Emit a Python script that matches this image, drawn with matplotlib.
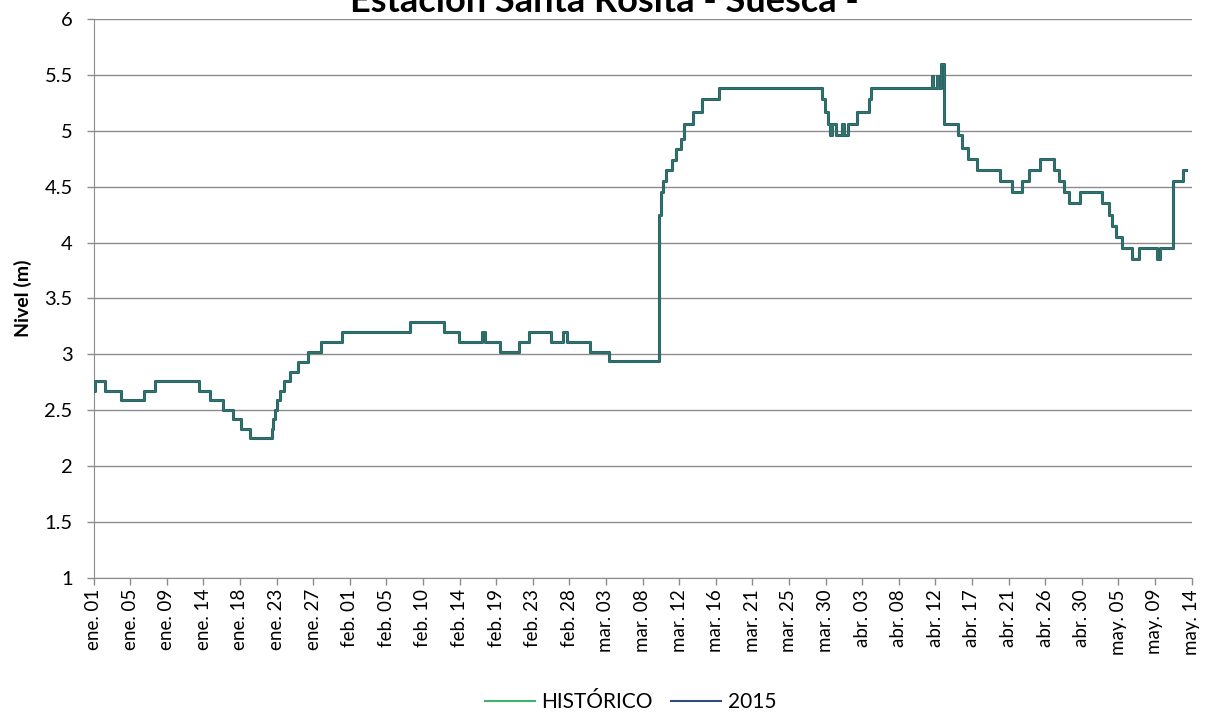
import numpy as np
import matplotlib
matplotlib.use('Agg')
import matplotlib.pyplot as plt
from matplotlib.lines import Line2D

plt.rcParams['font.family'] = ['Lato', 'DejaVu Sans']

# etiquetas del eje de categorias (una cada ~4-5 dias)
fechas = ['ene. 01', 'ene. 05', 'ene. 09', 'ene. 14', 'ene. 18', 'ene. 23', 'ene. 27',
          'feb. 01', 'feb. 05', 'feb. 10', 'feb. 14', 'feb. 19', 'feb. 23', 'feb. 28',
          'mar. 03', 'mar. 08', 'mar. 12', 'mar. 16', 'mar. 21', 'mar. 25', 'mar. 30',
          'abr. 03', 'abr. 08', 'abr. 12', 'abr. 17', 'abr. 21', 'abr. 26', 'abr. 30',
          'may. 05', 'may. 09', 'may. 14']

# posicion (en intervalos de etiqueta) donde cambia el nivel, y nivel (m)
t = [0.00, 0.04, 0.31, 0.74, 1.38, 1.68, 2.88, 3.18, 3.54, 3.81, 4.03, 4.28, 4.88, 4.90,
     4.95, 5.01, 5.10, 5.20, 5.37, 5.59, 5.86, 6.21, 6.78, 8.65, 9.58, 9.99, 10.61, 10.70,
     11.11, 11.63, 11.91, 12.50, 12.84, 12.95, 13.57, 14.09, 15.44, 15.46, 15.51, 15.55,
     15.64, 15.80, 15.92, 16.04, 16.14, 16.39, 16.63, 17.08, 19.90, 19.99, 20.07, 20.12,
     20.18, 20.29, 20.44, 20.50, 20.62, 20.87, 21.18, 21.23, 22.90, 22.95, 23.04, 23.08,
     23.15, 23.25, 23.63, 23.74, 23.90, 24.13, 24.77, 25.09, 25.38, 25.56, 25.86, 26.24,
     26.39, 26.52, 26.65, 26.95, 27.56, 27.74, 27.84, 27.95, 28.11, 28.38, 28.57, 29.05,
     29.14, 29.50, 29.76, 29.85]
nivel = [2.67, 2.76, 2.67, 2.59, 2.67, 2.76, 2.67, 2.59, 2.50, 2.42, 2.33, 2.25, 2.33, 2.42,
         2.50, 2.59, 2.67, 2.76, 2.84, 2.93, 3.02, 3.11, 3.20, 3.29, 3.20, 3.11, 3.20, 3.11,
         3.02, 3.11, 3.20, 3.11, 3.20, 3.11, 3.02, 2.94, 3.90, 4.25, 4.45, 4.55,
         4.65, 4.74, 4.84, 4.93, 5.06, 5.17, 5.28, 5.38, 5.28, 5.17, 5.06, 4.96,
         5.06, 4.96, 5.06, 4.96, 5.06, 5.17, 5.28, 5.38, 5.49, 5.38, 5.49, 5.38,
         5.60, 5.06, 4.96, 4.85, 4.75, 4.65, 4.55, 4.45, 4.55, 4.65, 4.75, 4.65,
         4.55, 4.45, 4.35, 4.45, 4.35, 4.25, 4.15, 4.05, 3.95, 3.85, 3.95, 3.85,
         3.95, 4.55, 4.65, 4.65]

C_HIST = '#3fb26f'
C_2015 = '#1f3864'

fig = plt.figure(figsize=(12.08, 7.15), dpi=100)
ax = fig.add_axes([93.5/1208, 1-578/715, (1191.5-93.5)/1208, (578-19)/715])

ax.step(t, nivel, where='post', color=C_2015, lw=2.2, zorder=3)
ax.step(t, nivel, where='post', color=C_HIST, lw=1.8, alpha=0.5, zorder=4)

ax.set_xlim(0, 30)
ax.set_ylim(1, 6)
ax.set_yticks(np.arange(1, 6.01, 0.5))
ax.set_yticklabels(['1', '1.5', '2', '2.5', '3', '3.5', '4', '4.5', '5', '5.5', '6'], fontsize=14.5)
ax.set_xticks(range(len(fechas)))
ax.set_xticklabels(fechas, rotation=90, fontsize=13.5)
ax.grid(axis='y', color='#8c8c8c', lw=1)
ax.set_axisbelow(True)
for s in ['top', 'right']:
    ax.spines[s].set_visible(False)
for s in ['left', 'bottom']:
    ax.spines[s].set_color('#8c8c8c')
ax.tick_params(axis='both', color='#8c8c8c', length=5, width=1)
ax.tick_params(axis='y', pad=10)
ax.tick_params(axis='x', pad=3)
ax.set_ylabel('Nivel (m)', fontsize=14, fontweight='bold', labelpad=9)

# el titulo queda recortado en el borde superior, como en el original
fig.text(0.5, 1-12/715, 'Estación Santa Rosita - Suesca -', ha='center', va='baseline',
         fontsize=26, fontweight='bold')

handles = [Line2D([], [], color=C_HIST, lw=1.5), Line2D([], [], color='#2f4b7c', lw=1.5)]
fig.legend(handles, ['HISTÓRICO', '2015'], loc='center', bbox_to_anchor=(0.522, 1-702/715),
           ncol=2, frameon=False, fontsize=15, handlelength=2.4, handletextpad=0.3,
           columnspacing=0.9)

fig.savefig('out.png', dpi=100)
